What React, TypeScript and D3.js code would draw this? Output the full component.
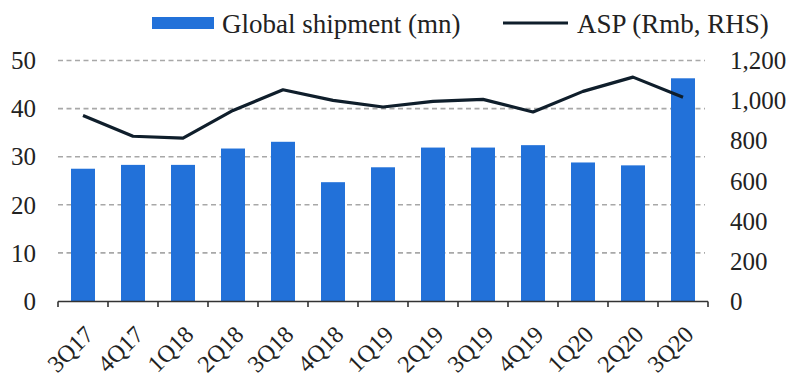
import React from "react";
import * as d3 from "d3";

const categories = ["3Q17","4Q17","1Q18","2Q18","3Q18","4Q18","1Q19","2Q19","3Q19","4Q19","1Q20","2Q20","3Q20"];
const shipments = [27.5, 28.3, 28.3, 31.7, 33.1, 24.7, 27.8, 31.9, 31.9, 32.4, 28.8, 28.2, 46.3];
const asp = [926, 822, 813, 951, 1054, 1001, 968, 996, 1006, 943, 1046, 1117, 1017];
const leftTicks = [0, 10, 20, 30, 40, 50];
const rightTicks = [0, 200, 400, 600, 800, 1000, 1200];
const legendBar = "Global shipment (mn)";
const legendLine = "ASP (Rmb, RHS)";

const W = 800, H = 381;
const FONT = "'Liberation Serif', 'Times New Roman', serif";
const BLUE = "#2271d9";
const LINE = "#0f1e2b";

export default function App() {
  const x = d3.scaleBand<string>().domain(categories).range([58, 708]).paddingInner(0.52).paddingOuter(0.26);
  const band = d3.scaleBand<string>().domain(categories).range([58, 708]);
  const yL = d3.scaleLinear().domain([0, 50]).range([301, 60.5]);
  const yR = d3.scaleLinear().domain([0, 1200]).range([301, 60.5]);
  const line = d3.line<number>().x((_, i) => band(categories[i])! + band.bandwidth() / 2).y(d => yR(d));
  const boundaries = d3.range(categories.length + 1).map(i => 58 + i * band.bandwidth());

  return (
    <svg width={W} height={H} style={{ position: "absolute", left: 0, top: 0, background: "#fff" }} fontFamily={FONT}>
      {leftTicks.filter(t => t > 0).map(t => (
        <line key={t} x1={58} x2={705} y1={yL(t)} y2={yL(t)} stroke="#a8a8a8" strokeWidth={1.6} strokeDasharray="5,3.5" />
      ))}
      {categories.map((c, i) => (
        <rect key={c} x={x(c)} y={yL(shipments[i])} width={x.bandwidth()} height={yL(0) - yL(shipments[i])} fill={BLUE} />
      ))}
      <path d={line(asp)!} fill="none" stroke={LINE} strokeWidth={3.2} strokeLinejoin="round" />
      <line x1={58} x2={708} y1={301.5} y2={301.5} stroke="#333" strokeWidth={1.6} />
      {boundaries.map((b, i) => (
        <line key={i} x1={b} x2={b} y1={301.5} y2={307} stroke="#333" strokeWidth={1.6} />
      ))}
      {leftTicks.map(t => (
        <text key={t} x={36} y={yL(t)} dy="0.35em" textAnchor="end" fontSize={25} fill="#222">{t}</text>
      ))}
      {rightTicks.map(t => (
        <text key={t} x={730} y={yR(t)} dy="0.35em" textAnchor="start" fontSize={25} fill="#222">{d3.format(",")(t)}</text>
      ))}
      {categories.map(c => {
        const cx = band(c)! + band.bandwidth() / 2 + 6;
        const cy = 330;
        return (
          <text key={c} x={cx} y={cy} textAnchor="end" fontSize={24} fill="#222" transform={`rotate(-45 ${cx} ${cy})`} dy="0.35em">{c}</text>
        );
      })}
      <rect x={152} y={17} width={62} height={12} fill={BLUE} />
      <text x={222} y={33} fontSize={27} fill="#222">{legendBar}</text>
      <line x1={503} x2={568} y1={23} y2={23} stroke={LINE} strokeWidth={3.2} />
      <text x={577} y={33} fontSize={27} fill="#222">{legendLine}</text>
    </svg>
  );
}
